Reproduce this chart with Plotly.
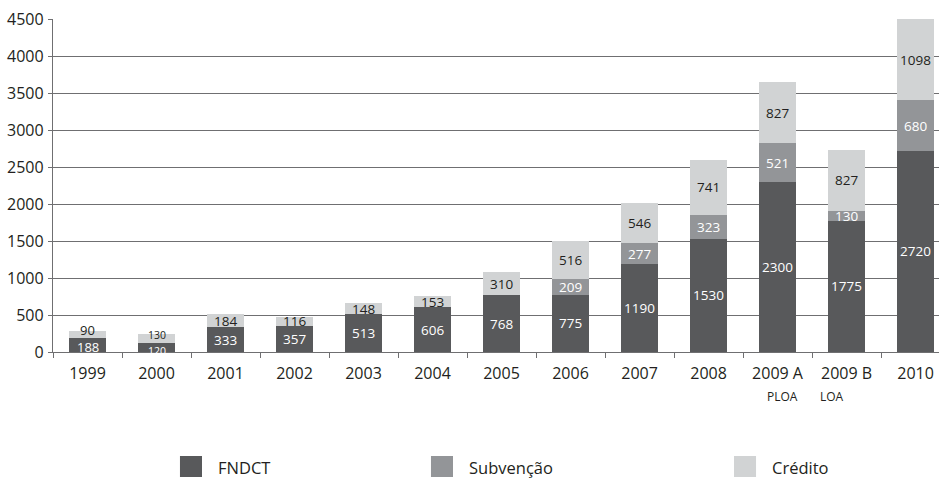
import plotly.graph_objects as go

# Funding by year and source (R$ millions)
years = ["1999", "2000", "2001", "2002", "2003", "2004", "2005", "2006",
         "2007", "2008", "2009 A", "2009 B", "2010"]
fndct = [188, 120, 333, 357, 513, 606, 768, 775, 1190, 1530, 2300, 1775, 2720]
subvencao = [0, 0, 0, 0, 0, 0, 0, 209, 277, 323, 521, 130, 680]
credito = [90, 130, 184, 116, 148, 153, 310, 516, 546, 741, 827, 827, 1098]
series_names = ["FNDCT", "Subvenção", "Crédito"]
sub_labels = {"2009 A": "PLOA", "2009 B": "LOA"}

colors = ["#58595b", "#939598", "#d1d3d4"]
label_colors = ["#ffffff", "#ffffff", "#231f20"]
FONT = "Open Sans"
TEXT = "#231f20"
GRID = "#6f6f71"

series = [fndct, subvencao, credito]

fig = go.Figure()
for name, vals, col in zip(series_names, series, colors):
    fig.add_trace(go.Bar(
        x=years, y=vals, name=name, marker=dict(color=col, line=dict(width=0)),
        width=0.53, showlegend=False, hoverinfo="x+y+name",
    ))

# Value labels centred in each segment (x given as category index);
# the two shortest bars get their labels nudged apart so they don't collide
small_bar_shift = {"1999": (-2, 0, 5), "2000": (-3, 0, 3)}
small_bar_size = {"1999": 13, "2000": 10.5}
annotations = []
for i, yr in enumerate(years):
    base = 0
    for s, vals in enumerate(series):
        v = vals[i]
        if v > 0:
            annotations.append(dict(
                x=i, y=base + v / 2, xref="x", yref="y", text=str(v),
                showarrow=False,
                font=dict(family=FONT, size=small_bar_size.get(yr, 13.5), color=label_colors[s]),
                xanchor="center", yanchor="middle",
                yshift=small_bar_shift.get(yr, (0, 0, 0))[s],
            ))
        base += v

# Secondary category notes under the axis labels
for yr, note in sub_labels.items():
    annotations.append(dict(
        x=years.index(yr), y=-0.134, xref="x", yref="paper", text=note, showarrow=False,
        font=dict(family=FONT, size=12, color=TEXT), xanchor="center", yanchor="middle",
        xshift=5 if note == "PLOA" else -15,
    ))

# Legend drawn as swatches + labels below the plot
legend_x = [0.1433, 0.4266, 0.7686]
shapes = []
for name, col, lx in zip(series_names, colors, legend_x):
    shapes.append(dict(
        type="rect", xref="paper", yref="paper", x0=lx, x1=lx + 0.0249,
        y0=-0.3754, y1=-0.3123, fillcolor=col, line=dict(width=0),
    ))
    annotations.append(dict(
        x=lx + 0.0407, y=-0.346, xref="paper", yref="paper", text=name,
        showarrow=False, font=dict(family=FONT, size=16.5, color=TEXT),
        xanchor="left", yanchor="middle",
    ))

fig.update_layout(
    barmode="stack",
    width=939, height=479,
    margin=dict(l=53, r=0, t=19, b=127),
    paper_bgcolor="white", plot_bgcolor="white",
    font=dict(family=FONT, color=TEXT),
    annotations=annotations, shapes=shapes,
)
fig.update_xaxes(
    type="category", range=[-0.5, 12.34],
    showline=True, linecolor=GRID, linewidth=1.3,
    ticks="outside", tickson="boundaries", ticklen=5, tickcolor=GRID, tickwidth=1.3,
    tickfont=dict(family=FONT, size=16, color=TEXT), ticklabelstandoff=7,
    showgrid=False, zeroline=False,
)
fig.update_yaxes(
    range=[0, 4500], tick0=0, dtick=500,
    showline=True, linecolor=GRID, linewidth=1.3,
    ticks="outside", ticklen=4, tickcolor=GRID, tickwidth=1.3,
    tickfont=dict(family=FONT, size=16, color=TEXT), ticklabelstandoff=1,
    showgrid=True, gridcolor=GRID, gridwidth=1.3, zeroline=False,
)

fig.write_html("out.html")
